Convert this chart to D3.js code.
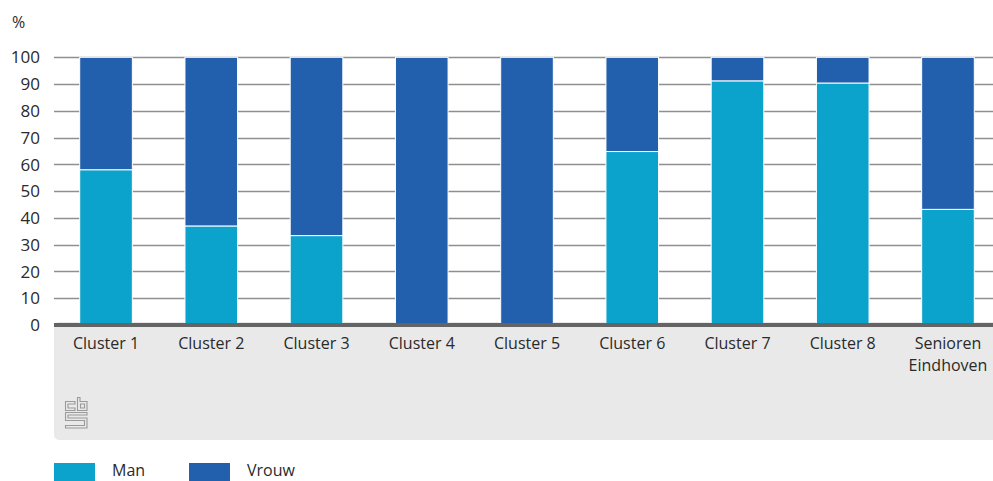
<!DOCTYPE html>
<html><head><meta charset="utf-8">
<script src="https://cdn.jsdelivr.net/npm/d3@7"></script>
<style>body{margin:0;background:#fff}svg{display:block;font-family:"Open Sans","Noto Sans",sans-serif}</style>
</head><body><svg id="c" width="993" height="481"></svg>
<script>
const categories = ["Cluster 1","Cluster 2","Cluster 3","Cluster 4","Cluster 5","Cluster 6","Cluster 7","Cluster 8","Senioren Eindhoven"];
const man   = [58.0, 37.0, 33.4, 0, 0, 64.8, 91.2, 90.4, 43.2];
const vrouw = [42.0, 63.0, 66.6, 100, 100, 35.2, 8.8, 9.6, 56.8];
const yTicks = [0,10,20,30,40,50,60,70,80,90,100];
const seriesNames = ["Man","Vrouw"];
const colors = ["#0ba2cb","#225fad"];

const svg = d3.select("#c");
const x = d3.scaleBand().domain(categories).range([53.4, 1000.6]).paddingInner(0.5).paddingOuter(0.25);
const y = d3.scaleLinear().domain([0,100]).range([325, 57.3]);

// grey category band
svg.append("rect").attr("x",54).attr("y",322).attr("width",960).attr("height",118).attr("rx",5).attr("fill","#e9e9e9");

// gridlines
svg.append("g").selectAll("line").data(yTicks.filter(d=>d>0)).join("line")
  .attr("x1",54).attr("x2",993).attr("y1",d=>Math.round(y(d))+0.5).attr("y2",d=>Math.round(y(d))+0.5)
  .attr("stroke","#8f8f8f").attr("stroke-width",1.3);

// y tick labels
svg.append("g").selectAll("text").data(yTicks).join("text")
  .attr("x",40).attr("y",d=>y(d)).attr("dy","0.36em").attr("text-anchor","end")
  .attr("font-size",17).attr("fill","#2a2a2a").text(d=>d);
svg.append("text").attr("x",12).attr("y",28).attr("font-size",16).attr("fill","#2a2a2a").text("%");

// stacked bars
const rows = categories.map((c,i)=>({cat:c, Man:man[i], Vrouw:vrouw[i]}));
const stack = d3.stack().keys(seriesNames)(rows);
svg.append("g").selectAll("g").data(stack).join("g").attr("fill",(d,i)=>colors[i])
  .selectAll("rect").data(d=>d.filter(s=>s[1]-s[0]>0)).join("rect")
  .attr("x",d=>x(d.data.cat)).attr("width",x.bandwidth())
  .attr("y",d=>y(d[1])).attr("height",d=>y(d[0])-y(d[1]))
  .attr("stroke","#fff").attr("stroke-width",1);

// axis base line
svg.append("rect").attr("x",54).attr("y",323).attr("width",939).attr("height",4).attr("fill","#646464");

// category labels
const lab = svg.append("g").selectAll("text").data(categories).join("text")
  .attr("x",d=>x(d)+x.bandwidth()/2).attr("y",349).attr("text-anchor","middle")
  .attr("font-size",16).attr("fill","#2a2a2a");
lab.each(function(d){
  const words = d === "Senioren Eindhoven" ? ["Senioren","Eindhoven"] : [d];
  d3.select(this).selectAll("tspan").data(words).join("tspan")
    .attr("x",x(d)+x.bandwidth()/2).attr("dy",(w,i)=>i?"1.35em":0).text(w=>w);
});

// CBS logo (approximation)
const lg = svg.append("g").attr("transform","translate(65,397)").attr("fill","none").attr("stroke","#9a9a9a").attr("stroke-width",1.1);
lg.append("path").attr("d","M0.5,4.5 H10 V7 H3 V11 H10 V13.5 H0.5 Z");
lg.append("path").attr("d","M12.5,0.5 H15 V4.5 H22 V13.5 H12.5 Z M15.5,7 V11 H19.5 V7 Z");
lg.append("path").attr("d","M0.5,15.5 H22 V18 H3 V21 H22 V31 H0.5 V28.5 H19.5 V23.5 H0.5 Z");

// legend
const leg = svg.append("g").selectAll("g").data(seriesNames).join("g")
  .attr("transform",(d,i)=>`translate(${54+i*135},463)`);
leg.append("rect").attr("width",41).attr("height",20).attr("fill",(d,i)=>colors[i]);
leg.append("text").attr("x",58).attr("y",13).attr("font-size",16).attr("fill","#2a2a2a").text(d=>d);
</script></body></html>
